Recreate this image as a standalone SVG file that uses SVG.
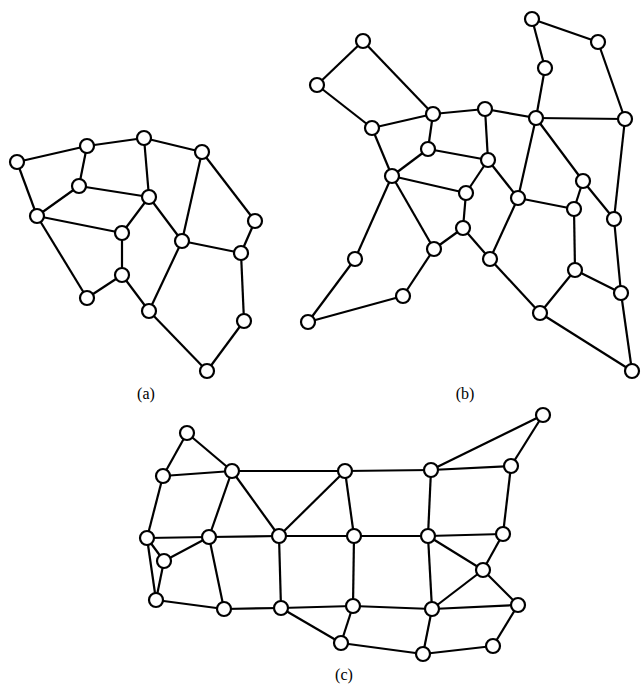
<svg xmlns="http://www.w3.org/2000/svg" width="643" height="686" viewBox="0 0 643 686">
<style>
.e line{stroke:#000;stroke-width:2.2;}
.n circle{fill:#fff;stroke:#000;stroke-width:2.2;}
text{font-family:"Liberation Serif",serif;font-size:16px;fill:#000;text-anchor:middle;}
</style>
<rect width="643" height="686" fill="#fff"/>
<g id="connectors" class="e">
<!-- (a) -->
<line x1="17" y1="162" x2="87" y2="146"/>
<line x1="87" y1="146" x2="144" y2="138"/>
<line x1="144" y1="138" x2="202" y2="152"/>
<line x1="17" y1="162" x2="37" y2="216"/>
<line x1="87" y1="146" x2="79" y2="186"/>
<line x1="79" y1="186" x2="149" y2="197"/>
<line x1="79" y1="186" x2="37" y2="216"/>
<line x1="144" y1="138" x2="149" y2="197"/>
<line x1="37" y1="216" x2="122" y2="233"/>
<line x1="37" y1="216" x2="87" y2="298"/>
<line x1="149" y1="197" x2="122" y2="233"/>
<line x1="149" y1="197" x2="182" y2="241"/>
<line x1="202" y1="152" x2="182" y2="241"/>
<line x1="202" y1="152" x2="255" y2="221"/>
<line x1="255" y1="221" x2="241" y2="253"/>
<line x1="182" y1="241" x2="241" y2="253"/>
<line x1="122" y1="233" x2="122" y2="275"/>
<line x1="122" y1="275" x2="87" y2="298"/>
<line x1="122" y1="275" x2="149" y2="311"/>
<line x1="182" y1="241" x2="149" y2="311"/>
<line x1="241" y1="253" x2="244" y2="321"/>
<line x1="149" y1="311" x2="207" y2="371"/>
<line x1="244" y1="321" x2="207" y2="371"/>
<!-- (b) -->
<line x1="363" y1="41" x2="317" y2="85"/>
<line x1="363" y1="41" x2="433" y2="114"/>
<line x1="317" y1="85" x2="372" y2="128"/>
<line x1="372" y1="128" x2="433" y2="114"/>
<line x1="433" y1="114" x2="428" y2="149"/>
<line x1="433" y1="114" x2="485" y2="109"/>
<line x1="372" y1="128" x2="392" y2="176"/>
<line x1="428" y1="149" x2="392" y2="176"/>
<line x1="428" y1="149" x2="488" y2="160"/>
<line x1="392" y1="176" x2="466" y2="193"/>
<line x1="392" y1="176" x2="355" y2="259"/>
<line x1="392" y1="176" x2="434" y2="249"/>
<line x1="466" y1="193" x2="463" y2="228"/>
<line x1="463" y1="228" x2="434" y2="249"/>
<line x1="434" y1="249" x2="403" y2="296"/>
<line x1="355" y1="259" x2="308" y2="322"/>
<line x1="403" y1="296" x2="308" y2="322"/>
<line x1="488" y1="160" x2="466" y2="193"/>
<line x1="485" y1="109" x2="488" y2="160"/>
<line x1="485" y1="109" x2="536" y2="118"/>
<line x1="536" y1="118" x2="545" y2="68"/>
<line x1="545" y1="68" x2="532" y2="19"/>
<line x1="532" y1="19" x2="598" y2="42"/>
<line x1="598" y1="42" x2="625" y2="119"/>
<line x1="536" y1="118" x2="625" y2="119"/>
<line x1="536" y1="118" x2="518" y2="198"/>
<line x1="536" y1="118" x2="583" y2="181"/>
<line x1="488" y1="160" x2="518" y2="198"/>
<line x1="518" y1="198" x2="574" y2="209"/>
<line x1="583" y1="181" x2="574" y2="209"/>
<line x1="583" y1="181" x2="614" y2="219"/>
<line x1="625" y1="119" x2="614" y2="219"/>
<line x1="574" y1="209" x2="575" y2="270"/>
<line x1="614" y1="219" x2="621" y2="293"/>
<line x1="575" y1="270" x2="621" y2="293"/>
<line x1="575" y1="270" x2="540" y2="313"/>
<line x1="518" y1="198" x2="490" y2="259"/>
<line x1="463" y1="228" x2="490" y2="259"/>
<line x1="490" y1="259" x2="540" y2="313"/>
<line x1="540" y1="313" x2="632" y2="371"/>
<line x1="621" y1="293" x2="632" y2="371"/>
<!-- (c) -->
<line x1="187" y1="433" x2="163" y2="476"/>
<line x1="187" y1="433" x2="232" y2="471"/>
<line x1="163" y1="476" x2="232" y2="471"/>
<line x1="163" y1="476" x2="147" y2="538"/>
<line x1="232" y1="471" x2="345" y2="471"/>
<line x1="232" y1="471" x2="209" y2="537"/>
<line x1="232" y1="471" x2="279" y2="536"/>
<line x1="345" y1="471" x2="279" y2="536"/>
<line x1="345" y1="471" x2="354" y2="536"/>
<line x1="147" y1="538" x2="209" y2="537"/>
<line x1="147" y1="538" x2="164" y2="561"/>
<line x1="147" y1="538" x2="156" y2="600"/>
<line x1="209" y1="537" x2="164" y2="561"/>
<line x1="209" y1="537" x2="224" y2="609"/>
<line x1="209" y1="537" x2="279" y2="536"/>
<line x1="279" y1="536" x2="354" y2="536"/>
<line x1="279" y1="536" x2="281" y2="608"/>
<line x1="164" y1="561" x2="156" y2="600"/>
<line x1="156" y1="600" x2="224" y2="609"/>
<line x1="224" y1="609" x2="281" y2="608"/>
<line x1="281" y1="608" x2="353" y2="606"/>
<line x1="281" y1="608" x2="341" y2="643"/>
<line x1="341" y1="643" x2="353" y2="606"/>
<line x1="341" y1="643" x2="423" y2="654"/>
<line x1="354" y1="536" x2="428" y2="536"/>
<line x1="354" y1="536" x2="353" y2="606"/>
<line x1="345" y1="471" x2="431" y2="470"/>
<line x1="431" y1="470" x2="511" y2="466"/>
<line x1="431" y1="470" x2="543" y2="415"/>
<line x1="543" y1="415" x2="511" y2="466"/>
<line x1="431" y1="470" x2="428" y2="536"/>
<line x1="511" y1="466" x2="503" y2="534"/>
<line x1="428" y1="536" x2="503" y2="534"/>
<line x1="428" y1="536" x2="483" y2="570"/>
<line x1="428" y1="536" x2="432" y2="609"/>
<line x1="503" y1="534" x2="483" y2="570"/>
<line x1="483" y1="570" x2="432" y2="609"/>
<line x1="483" y1="570" x2="518" y2="605"/>
<line x1="353" y1="606" x2="432" y2="609"/>
<line x1="432" y1="609" x2="518" y2="605"/>
<line x1="432" y1="609" x2="423" y2="654"/>
<line x1="423" y1="654" x2="493" y2="646"/>
<line x1="493" y1="646" x2="518" y2="605"/>
</g>
<g class="n">
<g id="a1"><circle cx="17" cy="162" r="7"/></g>
<g id="a2"><circle cx="87" cy="146" r="7"/></g>
<g id="a3"><circle cx="144" cy="138" r="7"/></g>
<g id="a4"><circle cx="202" cy="152" r="7"/></g>
<g id="a5"><circle cx="79" cy="186" r="7"/></g>
<g id="a6"><circle cx="149" cy="197" r="7"/></g>
<g id="a7"><circle cx="37" cy="216" r="7"/></g>
<g id="a8"><circle cx="122" cy="233" r="7"/></g>
<g id="a9"><circle cx="182" cy="241" r="7"/></g>
<g id="a10"><circle cx="255" cy="221" r="7"/></g>
<g id="a11"><circle cx="241" cy="253" r="7"/></g>
<g id="a12"><circle cx="122" cy="275" r="7"/></g>
<g id="a13"><circle cx="87" cy="298" r="7"/></g>
<g id="a14"><circle cx="149" cy="311" r="7"/></g>
<g id="a15"><circle cx="244" cy="321" r="7"/></g>
<g id="a16"><circle cx="207" cy="371" r="7"/></g>

<g id="b1"><circle cx="363" cy="41" r="7"/></g>
<g id="b2"><circle cx="317" cy="85" r="7"/></g>
<g id="b3"><circle cx="433" cy="114" r="7"/></g>
<g id="b4"><circle cx="372" cy="128" r="7"/></g>
<g id="b5"><circle cx="428" cy="149" r="7"/></g>
<g id="b6"><circle cx="392" cy="176" r="7"/></g>
<g id="b7"><circle cx="466" cy="193" r="7"/></g>
<g id="b8"><circle cx="463" cy="228" r="7"/></g>
<g id="b9"><circle cx="434" cy="249" r="7"/></g>
<g id="b10"><circle cx="355" cy="259" r="7"/></g>
<g id="b11"><circle cx="403" cy="296" r="7"/></g>
<g id="b12"><circle cx="308" cy="322" r="7"/></g>
<g id="b13"><circle cx="532" cy="19" r="7"/></g>
<g id="b14"><circle cx="598" cy="42" r="7"/></g>
<g id="b15"><circle cx="545" cy="68" r="7"/></g>
<g id="b16"><circle cx="485" cy="109" r="7"/></g>
<g id="b17"><circle cx="536" cy="118" r="7"/></g>
<g id="b18"><circle cx="625" cy="119" r="7"/></g>
<g id="b19"><circle cx="488" cy="160" r="7"/></g>
<g id="b20"><circle cx="583" cy="181" r="7"/></g>
<g id="b21"><circle cx="518" cy="198" r="7"/></g>
<g id="b22"><circle cx="574" cy="209" r="7"/></g>
<g id="b23"><circle cx="614" cy="219" r="7"/></g>
<g id="b24"><circle cx="490" cy="259" r="7"/></g>
<g id="b25"><circle cx="575" cy="270" r="7"/></g>
<g id="b26"><circle cx="621" cy="293" r="7"/></g>
<g id="b27"><circle cx="540" cy="313" r="7"/></g>
<g id="b28"><circle cx="632" cy="371" r="7"/></g>

<g id="c1"><circle cx="187" cy="433" r="7"/></g>
<g id="c2"><circle cx="163" cy="476" r="7"/></g>
<g id="c3"><circle cx="232" cy="471" r="7"/></g>
<g id="c4"><circle cx="345" cy="471" r="7"/></g>
<g id="c5"><circle cx="147" cy="538" r="7"/></g>
<g id="c6"><circle cx="209" cy="537" r="7"/></g>
<g id="c7"><circle cx="279" cy="536" r="7"/></g>
<g id="c8"><circle cx="164" cy="561" r="7"/></g>
<g id="c9"><circle cx="156" cy="600" r="7"/></g>
<g id="c10"><circle cx="224" cy="609" r="7"/></g>
<g id="c11"><circle cx="281" cy="608" r="7"/></g>
<g id="c12"><circle cx="341" cy="643" r="7"/></g>
<g id="c13"><circle cx="543" cy="415" r="7"/></g>
<g id="c14"><circle cx="431" cy="470" r="7"/></g>
<g id="c15"><circle cx="511" cy="466" r="7"/></g>
<g id="c16"><circle cx="354" cy="536" r="7"/></g>
<g id="c17"><circle cx="428" cy="536" r="7"/></g>
<g id="c18"><circle cx="503" cy="534" r="7"/></g>
<g id="c19"><circle cx="483" cy="570" r="7"/></g>
<g id="c20"><circle cx="353" cy="606" r="7"/></g>
<g id="c21"><circle cx="432" cy="609" r="7"/></g>
<g id="c22"><circle cx="518" cy="605" r="7"/></g>
<g id="c23"><circle cx="493" cy="646" r="7"/></g>
<g id="c24"><circle cx="423" cy="654" r="7"/></g>
</g>
<g id="labels">
<text x="146" y="399">(a)</text>
<text x="465" y="399">(b)</text>
<text x="344" y="680">(c)</text>
</g>
</svg>
